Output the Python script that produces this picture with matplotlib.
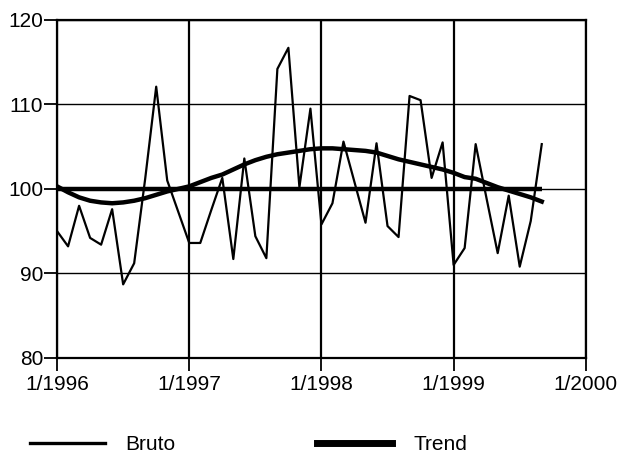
import matplotlib
matplotlib.use("Agg")
import matplotlib.pyplot as plt
import numpy as np

# maandelijkse reeks 1/1996 - 9/1999
bruto = [95.0, 93.2, 98.0, 94.2, 93.4, 97.6, 88.7, 91.2, 101.2, 112.1, 101.0, 97.3,
         93.6, 93.6, 97.5, 101.3, 91.7, 103.6, 94.4, 91.8, 114.2, 116.7, 100.2, 109.5,
         95.8, 98.3, 105.6, 100.8, 96.0, 105.4, 95.6, 94.3, 111.0, 110.5, 101.3, 105.5,
         91.0, 93.0, 105.3, 98.8, 92.4, 99.2, 90.8, 96.2, 105.3]
trend = [100.3, 99.6, 99.0, 98.6, 98.4, 98.3, 98.4, 98.6, 98.9, 99.3, 99.7, 100.0,
         100.3, 100.8, 101.3, 101.7, 102.3, 102.9, 103.4, 103.8, 104.1, 104.3, 104.5, 104.7,
         104.8, 104.8, 104.7, 104.6, 104.5, 104.3, 103.9, 103.5, 103.2, 102.9, 102.6, 102.3,
         101.9, 101.4, 101.2, 100.7, 100.2, 99.8, 99.4, 99.0, 98.5]
basis = 100
jaren = [1996, 1997, 1998, 1999, 2000]
jaar_labels = ["1/1996", "1/1997", "1/1998", "1/1999", "1/2000"]
y_ticks = [80, 90, 100, 110, 120]

plt.rcParams['font.family'] = ['Liberation Sans', 'DejaVu Sans']

x = 1996 + np.arange(len(bruto)) / 12.0

fig = plt.figure(figsize=(6.34, 4.53), dpi=100)
ax = fig.add_axes([0.090, 0.210, 0.834, 0.746])

for j in jaren:
    ax.axvline(j, color='black', lw=1.6, zorder=1)
for v in y_ticks:
    ax.axhline(v, color='black', lw=1.0, zorder=1)

ax.plot(x, bruto, color='black', lw=1.6, label='Bruto', zorder=3)
ax.plot(x, [basis] * len(x), color='black', lw=3.2, solid_capstyle='butt', zorder=3)
ax.plot(x, trend, color='black', lw=3.2, label='Trend', zorder=3)

ax.set_xlim(1996, 2000)
ax.set_ylim(80, 120)
ax.set_xticks(jaren)
ax.set_xticklabels(jaar_labels)
ax.set_yticks(y_ticks)
ax.tick_params(axis='both', labelsize=15, length=9.5, width=1.3, color='black')
ax.tick_params(axis='x', pad=3)
ax.tick_params(axis='y', pad=0.5)
for s in ax.spines.values():
    s.set_linewidth(1.6)

leg = fig.legend(loc='center left', bbox_to_anchor=(0.047, 0.018), ncol=2, frameon=False,
                 fontsize=15, handlelength=3.6, handletextpad=1.0, columnspacing=6.8,
                 borderpad=0, borderaxespad=0)
leg.get_lines()[0].set_linewidth(2.4)
leg.get_lines()[1].set_linewidth(5)

fig.savefig('out.png', dpi=100)
